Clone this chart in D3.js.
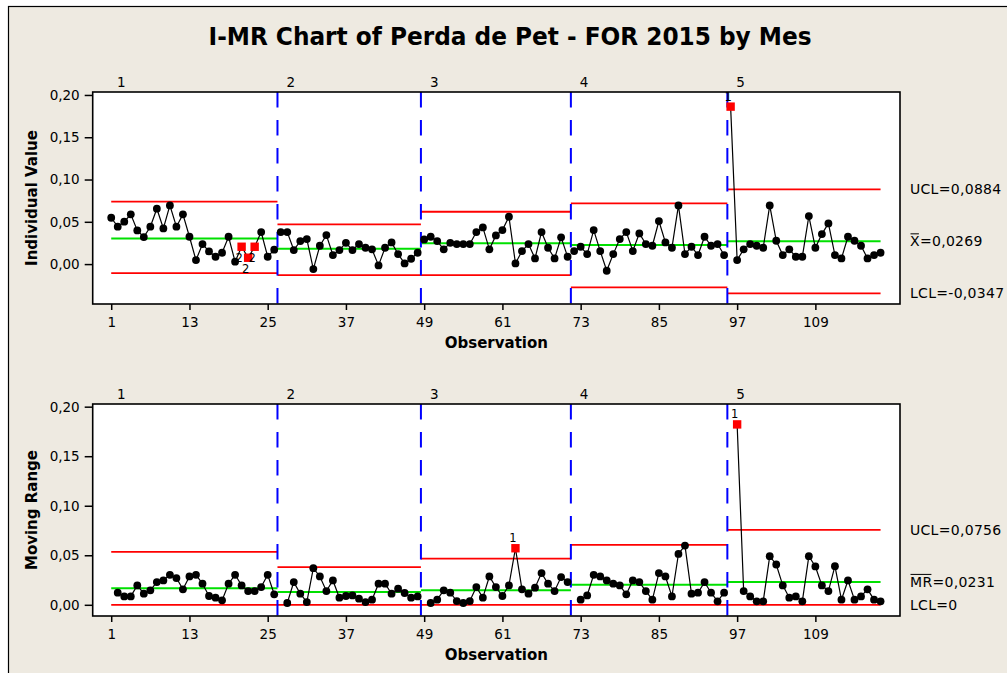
<!DOCTYPE html>
<html><head><meta charset="utf-8">
<script src="https://cdn.jsdelivr.net/npm/d3@7"></script>
<style>
body{margin:0;background:#fff;}
text{font-family:"DejaVu Sans",Verdana,sans-serif;fill:#000;}
</style>
</head><body>
<svg id="c" width="1007" height="673"></svg>
<script>
// ---------------- data ----------------
const stageNames = ["1","2","3","4","5"];
const stageStart = [1, 27, 49, 72, 96];     // first observation of each stage
const nObs = 119;
const xTicks = [1, 13, 25, 37, 49, 61, 73, 85, 97, 109];
const yTicks = [0, 0.05, 0.10, 0.15, 0.20];

const individual = [
 0.0548,0.0442,0.0501,0.0588,0.0398,0.0320,0.0442,0.0655,0.0422,0.0694,
 0.0442,0.0588,0.0323,0.0047,0.0237,0.0150,0.0087,0.0134,0.0323,0.0028,
 0.0205,0.0075,0.0205,0.0379,0.0087,0.0170,
 0.0379,0.0379,0.0166,0.0272,0.0296,-0.0059,0.0217,0.0343,0.0107,0.0166,
 0.0252,0.0166,0.0237,0.0193,0.0174,-0.0016,0.0193,0.0256,0.0118,0.0008,
 0.0063,0.0134,
 0.0292,0.0323,0.0272,0.0174,0.0252,0.0237,0.0237,0.0237,0.0379,0.0434,
 0.0174,0.0339,0.0402,0.0560,0.0008,0.0154,0.0237,0.0067,0.0379,0.0193,
 0.0067,0.0316,0.0087,
 0.0154,0.0205,0.0118,0.0402,0.0154,-0.0079,0.0118,0.0296,0.0379,0.0154,
 0.0363,0.0237,0.0217,0.0509,0.0256,0.0193,0.0694,0.0118,0.0205,0.0107,
 0.0323,0.0217,0.0237,0.0107,
 0.1862,0.0047,0.0174,0.0237,0.0217,0.0193,0.0694,0.0276,0.0107,0.0174,
 0.0087,0.0087,0.0568,0.0193,0.0355,0.0481,0.0107,0.0067,0.0323,0.0276,
 0.0217,0.0067,0.0107,0.0134
];

const movingRange = [
 null,0.0122,0.0085,0.0085,0.0196,0.0112,0.0146,0.0229,0.0246,0.0303,
 0.0270,0.0156,0.0286,0.0303,0.0213,0.0089,0.0072,0.0045,0.0213,0.0303,
 0.0196,0.0139,0.0139,0.0179,0.0303,0.0106,
 null,0.0018,0.0229,0.0112,0.0028,0.0370,0.0286,0.0139,0.0246,0.0072,
 0.0089,0.0095,0.0062,0.0028,0.0052,0.0213,0.0213,0.0112,0.0163,0.0119,
 0.0072,0.0085,
 null,0.0018,0.0052,0.0146,0.0122,0.0038,0.0018,0.0038,0.0179,0.0072,
 0.0286,0.0179,0.0089,0.0196,0.0571,0.0156,0.0112,0.0173,0.0320,0.0213,
 0.0139,0.0280,0.0229,
 null,0.0052,0.0095,0.0303,0.0286,0.0246,0.0213,0.0196,0.0106,0.0246,
 0.0229,0.0139,0.0052,0.0320,0.0286,0.0085,0.0514,0.0598,0.0112,0.0122,
 0.0229,0.0122,0.0035,0.0122,
 null,0.1821,0.0139,0.0085,0.0035,0.0035,0.0491,0.0407,0.0196,0.0072,
 0.0085,0.0035,0.0491,0.0387,0.0196,0.0139,0.0390,0.0052,0.0246,0.0052,
 0.0085,0.0156,0.0052,0.0035
];

const iCL  = [0.0304, 0.0181, 0.0245, 0.0225, 0.0269];
const iUCL = [0.0738, 0.0469, 0.0619, 0.0718, 0.0884];
const iLCL = [-0.0107, -0.0130, -0.0130, -0.0276, -0.0347];
const mrCL  = [0.0166, 0.0129, 0.0146, 0.0203, 0.0231];
const mrUCL = [0.0534, 0.0380, 0.0467, 0.0605, 0.0756];
const mrLCL = [0, 0, 0, 0, 0];

const iFlags  = [[21,"2"],[22,"2"],[23,"2"],[96,"1"]];
const mrFlags = [[63,"1"],[97,"1"]];

const iLimitText  = ["UCL=0,0884", "=0,0269", "LCL=-0,0347"];
const mrLimitText = ["UCL=0,0756", "=0,0231", "LCL=0"];

// ---------------- drawing ----------------
const svg = d3.select("#c");
const BG = "#EEEAE1";
svg.append("rect").attr("x",8.5).attr("y",6.5).attr("width",1100).attr("height",700)
  .attr("fill",BG).attr("stroke","#000").attr("stroke-width",1.2);

svg.append("text").attr("x",510).attr("y",45).attr("text-anchor","middle")
  .style("font-size","24px").style("font-weight","bold")
  .attr("textLength",603).attr("lengthAdjust","spacingAndGlyphs")
  .text("I-MR Chart of Perda de Pet - FOR 2015 by Mes");

const L = 92.7, R = 900;
const x = d3.scaleLinear().domain([-1.84, 121.98]).range([L, R]);
const obs = d3.range(1, nObs + 1);
const fmt = d => d3.format(".2f")(d).replace(".", ",");

function stageOf(i){ let s=0; for(let k=0;k<stageStart.length;k++) if(i>=stageStart[k]) s=k; return s; }

const panels = [
  {top:92, bottom:304, domain:[-0.0472,0.2035], vals:individual, cl:iCL, ucl:iUCL, lcl:iLCL,
   flags:iFlags, title:"Individual Value", limText:iLimitText, bar:"X"},
  {top:404, bottom:616, domain:[-0.0113,0.2027], vals:movingRange, cl:mrCL, ucl:mrUCL, lcl:mrLCL,
   flags:mrFlags, title:"Moving Range", limText:mrLimitText, bar:"MR"}
];

panels.forEach(p => {
  const y = d3.scaleLinear().domain(p.domain).range([p.bottom, p.top]);
  const g = svg.append("g");
  g.append("rect").attr("x",L).attr("y",p.top).attr("width",R-L).attr("height",p.bottom-p.top)
    .attr("fill","#fff");

  // axes
  const ya = g.append("g").attr("transform",`translate(${L},0)`)
    .call(d3.axisLeft(y).tickValues(yTicks).tickFormat(fmt).tickSize(8).tickPadding(5));
  const xa = g.append("g").attr("transform",`translate(0,${p.bottom})`)
    .call(d3.axisBottom(x).tickValues(xTicks).tickSize(6).tickPadding(7));
  [ya, xa].forEach(a => {
    a.select(".domain").remove();
    a.selectAll("line").attr("stroke","#000").attr("stroke-width",1.5);
    a.selectAll("text").style("font-size","13.5px").style("font-family","'DejaVu Sans',Verdana,sans-serif").attr("fill","#000");
  });

  // axis titles
  g.append("text").attr("transform",`translate(37,${(p.top+p.bottom)/2}) rotate(-90)`)
    .attr("text-anchor","middle").style("font-size","15px").style("font-weight","bold").text(p.title);
  g.append("text").attr("x",(L+R)/2).attr("y",p.bottom+43.5).attr("text-anchor","middle")
    .style("font-size","15px").style("font-weight","bold").text("Observation");

  // stage extents
  const stages = stageNames.map((nm, k) => {
    const first = stageStart[k];
    const last = k < stageStart.length-1 ? stageStart[k+1]-1 : nObs;
    const x0 = k === 0 ? x(first) : x(first - 0.5);
    const x1 = k === stageStart.length-1 ? x(last) : x(last + 0.5);
    return {k, nm, first, last, x0, x1};
  });

  // stage labels
  g.selectAll(".stlab").data(stages).join("text")
    .attr("x", s => x(s.first) + 10).attr("y", p.top - 5.5).attr("text-anchor","middle")
    .style("font-size","13.5px").text(s => s.nm);

  // limit lines
  const limLine = (arr, color, w) => g.selectAll(null).data(stages).join("line")
    .attr("x1", s => s.x0).attr("x2", s => s.x1)
    .attr("y1", s => y(arr[s.k])).attr("y2", s => y(arr[s.k]))
    .attr("stroke", color).attr("stroke-width", w);
  limLine(p.ucl, "#FF0000", 1.8);
  limLine(p.lcl, "#FF0000", 1.8);
  limLine(p.cl, "#00E000", 2);

  // stage dividers
  g.selectAll(null).data(stages.slice(1)).join("line")
    .attr("x1", s => x(s.first-0.5)).attr("x2", s => x(s.first-0.5))
    .attr("y1", p.top).attr("y2", p.bottom)
    .attr("stroke","#0000FF").attr("stroke-width",2).attr("stroke-dasharray","15.5,12.5");

  // data lines per stage
  const line = d3.line().defined(d => p.vals[d-1] !== null).x(d => x(d)).y(d => y(p.vals[d-1]));
  stages.forEach(s => {
    g.append("path").datum(d3.range(s.first, s.last+1)).attr("d", line)
      .attr("fill","none").attr("stroke","#000").attr("stroke-width",1.2);
  });

  const flagged = new Set(p.flags.map(f => f[0]));
  const pts = obs.filter(i => p.vals[i-1] !== null);
  g.selectAll(null).data(pts.filter(i => !flagged.has(i))).join("circle")
    .attr("cx", d => x(d)).attr("cy", d => y(p.vals[d-1])).attr("r",3.9).attr("fill","#000");
  g.selectAll(null).data(p.flags).join("rect")
    .attr("x", d => x(d[0]) - 4.2).attr("y", d => y(p.vals[d[0]-1]) - 4.2)
    .attr("width",8.4).attr("height",8.4).attr("fill","#FF0000");
  g.selectAll(null).data(p.flags).join("text")
    .attr("x", d => x(d[0]) - 2.5)
    .attr("y", d => {
      const v = p.vals[d[0]-1];
      const below = v < p.cl[stageOf(d[0])];
      return below ? y(v) + 15 : y(v) - 6;
    })
    .attr("text-anchor","middle").style("font-size","11.5px").text(d => d[1]);

  // plot frame
  g.append("rect").attr("x",L).attr("y",p.top).attr("width",R-L).attr("height",p.bottom-p.top)
    .attr("fill","none").attr("stroke","#000").attr("stroke-width",1.6);

  // right-side limit labels (last stage)
  const kL = stageStart.length - 1;
  const tx = 910;
  const lab = (txt, v) => g.append("text").attr("x",tx).attr("y",y(v)).attr("dy","0.36em")
    .style("font-size","14px").style("letter-spacing","0.3px").text(txt);
  lab(p.limText[0], p.ucl[kL]);
  lab(p.limText[2], p.lcl[kL]);
  const barT = g.append("text").attr("x",tx).attr("y",y(p.cl[kL])).attr("dy","0.36em")
    .style("font-size","14px").style("letter-spacing","0.3px").text(p.bar);
  const bw = barT.node().getComputedTextLength();
  g.append("text").attr("x",tx+bw).attr("y",y(p.cl[kL])).attr("dy","0.36em")
    .style("font-size","14px").style("letter-spacing","0.3px").text(p.limText[1]);
  g.append("line").attr("x1",tx+0.5).attr("x2",tx+bw-1)
    .attr("y1",y(p.cl[kL])-7.5).attr("y2",y(p.cl[kL])-7.5)
    .attr("stroke","#000").attr("stroke-width",1);
});
</script>
</body></html>
